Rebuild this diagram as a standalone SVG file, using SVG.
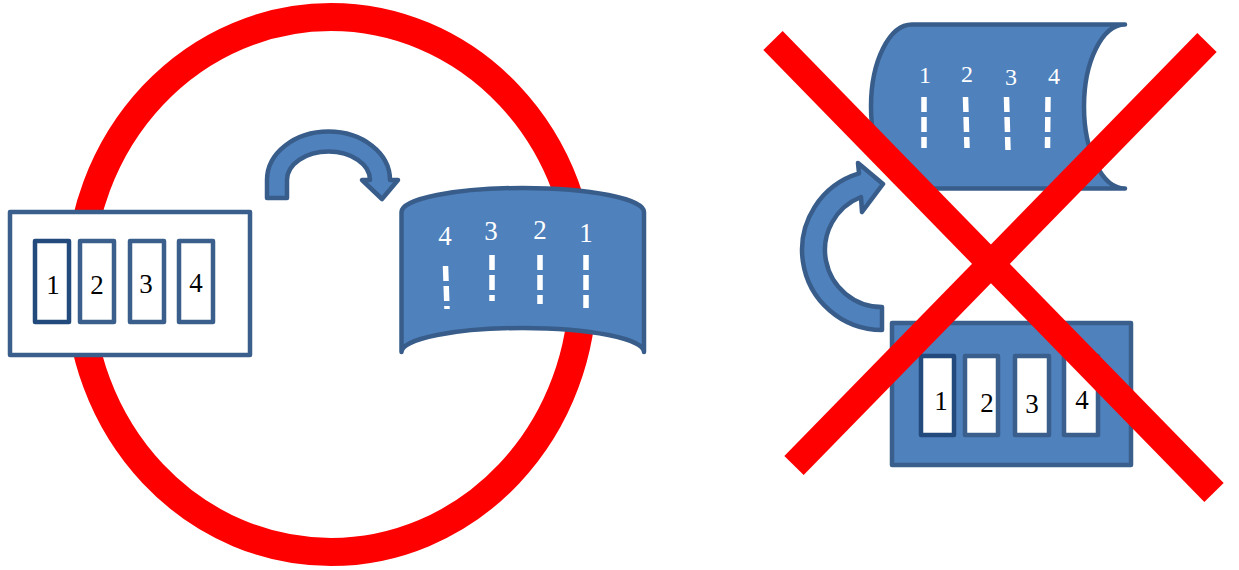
<svg xmlns="http://www.w3.org/2000/svg" width="1239" height="570" viewBox="0 0 1239 570">
<style>
.shape{fill:#4f81bd;stroke:#385d8a;stroke-width:4.5;stroke-linejoin:round}
.box{fill:#ffffff;stroke:#3b5f8d;stroke-width:4.5;stroke-linejoin:round}
.bluebox{fill:#4f81bd;stroke:#3b5f8d;stroke-width:4.5;stroke-linejoin:round}
.slot{fill:#ffffff;stroke:#3b5f8d;stroke-width:4.5;stroke-linejoin:round}
.slot1{fill:#ffffff;stroke:#234a7d;stroke-width:4.5;stroke-linejoin:round}
.num{font-family:"Liberation Serif","DejaVu Serif",serif;font-size:27px;text-anchor:middle;fill:#000000}
.wnum{font-family:"Liberation Serif","DejaVu Serif",serif;font-size:27px;text-anchor:middle;fill:#ffffff}
.rnum{font-family:"Liberation Serif","DejaVu Serif",serif;font-size:24px;text-anchor:middle;fill:#ffffff}
.dash{stroke:#ffffff;stroke-width:5.5;stroke-dasharray:15 5;fill:none}
.red{stroke:#ff0000;fill:none}
</style>

<g id="circle">
<ellipse class="red" cx="331" cy="284.5" rx="252" ry="267.5" stroke-width="28"/>
</g>

<g id="left-box">
<rect class="box" x="10" y="212" width="240" height="143"/>
<rect class="slot1" x="35" y="241" width="34" height="81"/>
<rect class="slot" x="80" y="241" width="34" height="81"/>
<rect class="slot" x="130" y="241" width="34" height="81"/>
<rect class="slot" x="179" y="241" width="34" height="81"/>
<text class="num" x="53" y="294">1</text>
<text class="num" x="97" y="294">2</text>
<text class="num" x="146" y="293">3</text>
<text class="num" x="196" y="292">4</text>
</g>

<g id="connectors">
<path id="left-arrow" class="shape" d="M267,198 L267,180 A61.5 48.5 0 0 1 390,180 L398,180 L382,199 L362,180 L370,180 A41.5 28.5 0 0 0 287,180 L287,198 Z"/>
<path id="right-arrow" class="shape" d="M882,330 A80 80 0 0 1 859,173.4 L858,163 L883,184 L862,212 L861,197 A57 57 0 0 0 882,307 Z"/>
</g>

<g id="left-flag">
<path class="shape" d="M401.5,212 A121.25 24 0 0 1 644,212 L644,352 A121.25 24 0 0 0 401.5,352 Z"/>
<text class="wnum" x="445" y="245">4</text>
<text class="wnum" x="491" y="240">3</text>
<text class="wnum" x="540" y="239">2</text>
<text class="wnum" x="586" y="242">1</text>
<line class="dash" x1="445.5" y1="266" x2="447" y2="309"/>
<line class="dash" x1="492" y1="255" x2="492" y2="301"/>
<line class="dash" x1="540" y1="255" x2="540" y2="304"/>
<line class="dash" x1="586" y1="255" x2="586" y2="308"/>
</g>

<g id="right-flag">
<path class="shape" d="M912,24.5 L1125,24.5 A41 82 0 0 0 1125,188.5 L912,188.5 A41 82 0 0 1 912,24.5 Z"/>
<text class="rnum" x="925" y="83">1</text>
<text class="rnum" x="967" y="82">2</text>
<text class="rnum" x="1011" y="85">3</text>
<text class="rnum" x="1054" y="84">4</text>
<line class="dash" x1="924" y1="97" x2="924" y2="148"/>
<line class="dash" x1="965.5" y1="97" x2="967" y2="148"/>
<line class="dash" x1="1006.5" y1="97" x2="1008" y2="150"/>
<line class="dash" x1="1048" y1="97" x2="1047.5" y2="148"/>
</g>

<g id="right-box">
<rect class="bluebox" x="892" y="323" width="239" height="142"/>
<rect class="slot1" x="921" y="356" width="33" height="79"/>
<rect class="slot" x="965" y="356" width="33" height="79"/>
<rect class="slot" x="1015" y="356" width="34" height="79"/>
<rect class="slot" x="1064" y="356" width="34" height="79"/>
<text class="num" x="941" y="410">1</text>
<text class="num" x="987" y="412">2</text>
<text class="num" x="1032" y="413">3</text>
<text class="num" x="1082" y="409">4</text>
</g>

<g id="cross">
<line class="red" x1="773" y1="40.5" x2="1214" y2="492.5" stroke-width="27"/>
<line class="red" x1="1207" y1="42.5" x2="794" y2="465.5" stroke-width="27"/>
</g>
</svg>
